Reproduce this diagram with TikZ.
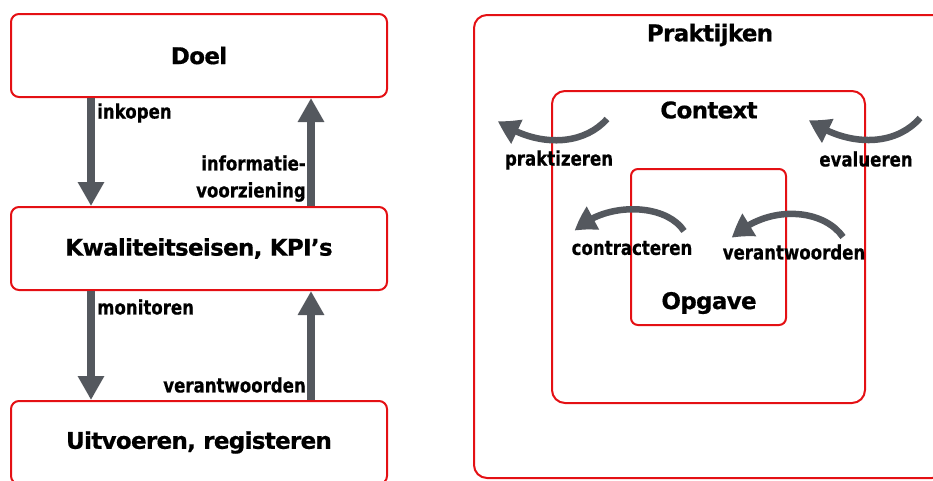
\documentclass[tikz,border=0pt]{standalone}
\usepackage{fontspec}
\usetikzlibrary{arrows.meta,bending}
\newfontfamily\tfont{DejaVu Sans Bold}[FakeBold=0.6,LetterSpace=-3]
\newfontfamily\lfont{DejaVu Sans Bold}[FakeStretch=0.83,FakeBold=0.6]
\definecolor{boxred}{RGB}{228,16,20}
\definecolor{arrowgray}{RGB}{84,88,94}
\tikzset{
  frame/.style={draw=boxred, line width=2pt, fill=none},
  title/.style={font=\tfont\fontsize{23}{26}\selectfont, text=black, inner sep=0pt},
  lbl/.style={font=\lfont\fontsize{20}{22}\selectfont, text=black, inner sep=0pt},
  bigarrow/.style={draw=arrowgray, line width=8pt, -{Triangle[length=24pt,width=25pt]}},
  curvearrow/.style={draw=arrowgray, line width=6.5pt, -{Triangle[length=22pt,width=25pt,bend]}},
}
\begin{document}
\begin{tikzpicture}[x=1pt,y=-1pt]
\useasboundingbox (0,0) rectangle (933,480);
% left column
\node[frame, rounded corners=8pt, minimum width=376pt, minimum height=83pt, title] (doel) at (199,55.5) {Doel};
\node[frame, rounded corners=8pt, minimum width=376pt, minimum height=83pt, title] (kpi) at (199,248.5) {Kwaliteitseisen, KPI’s};
\node[frame, rounded corners=8pt, minimum width=376pt, minimum height=83pt, title] (uit) at (199,442.5) {Uitvoeren, registeren};
\draw[bigarrow] ([xshift=-108pt]doel.south) -- ([xshift=-108pt]kpi.north);
\draw[bigarrow] ([xshift=112pt]kpi.north) -- ([xshift=112pt]doel.south);
\draw[bigarrow] ([xshift=-108pt]kpi.south) -- ([xshift=-108pt]uit.north);
\draw[bigarrow] ([xshift=112pt]uit.north) -- ([xshift=112pt]kpi.south);
\node[lbl, anchor=west] (inkopen) at (97,113) {inkopen};
\node[lbl, anchor=east] (info1) at (306,163) {informatie-};
\node[lbl, anchor=east] (info2) at (306,192) {voorziening};
\node[lbl, anchor=west] (monitoren) at (97,307) {monitoren};
\node[lbl, anchor=east] (verantw1) at (306,385) {verantwoorden};
% right part
\node[frame, rounded corners=13pt, minimum width=471pt, minimum height=463pt] (prak) at (709.5,246.5) {};
\node[frame, rounded corners=13pt, minimum width=313pt, minimum height=312pt] (ctx) at (708.5,247) {};
\node[frame, rounded corners=7pt, minimum width=155pt, minimum height=156pt] (opg) at (708.5,247) {};
\node[title] (praklbl) at (710,35) {Praktijken};
\node[title] (ctxlbl) at (709,110) {Context};
\node[title] (opglbl) at (709,303) {Opgave};
% curved arrows
\coordinate (p1) at (607,119); \coordinate (p2) at (498,121);
\coordinate (e1) at (920,118); \coordinate (e2) at (809,120);
\coordinate (c1) at (684,231); \coordinate (c2) at (575,231);
\coordinate (v1) at (843,237); \coordinate (v2) at (732,238);
\draw[curvearrow] (p1) .. controls (582,147) and (535,147) .. (p2);
\draw[curvearrow] (e1) .. controls (895,147) and (847,147) .. (e2);
\draw[curvearrow] (c1) .. controls (665,202) and (603,202) .. (c2);
\draw[curvearrow] (v1) .. controls (822,207) and (765,205) .. (v2);
\node[lbl] (praktizeren) at (559,160) {praktizeren};
\node[lbl] (evalueren) at (866,159) {evalueren};
\node[lbl] (contracteren) at (632,248) {contracteren};
\node[lbl] (verantw2) at (794,252) {verantwoorden};
\end{tikzpicture}
\end{document}
